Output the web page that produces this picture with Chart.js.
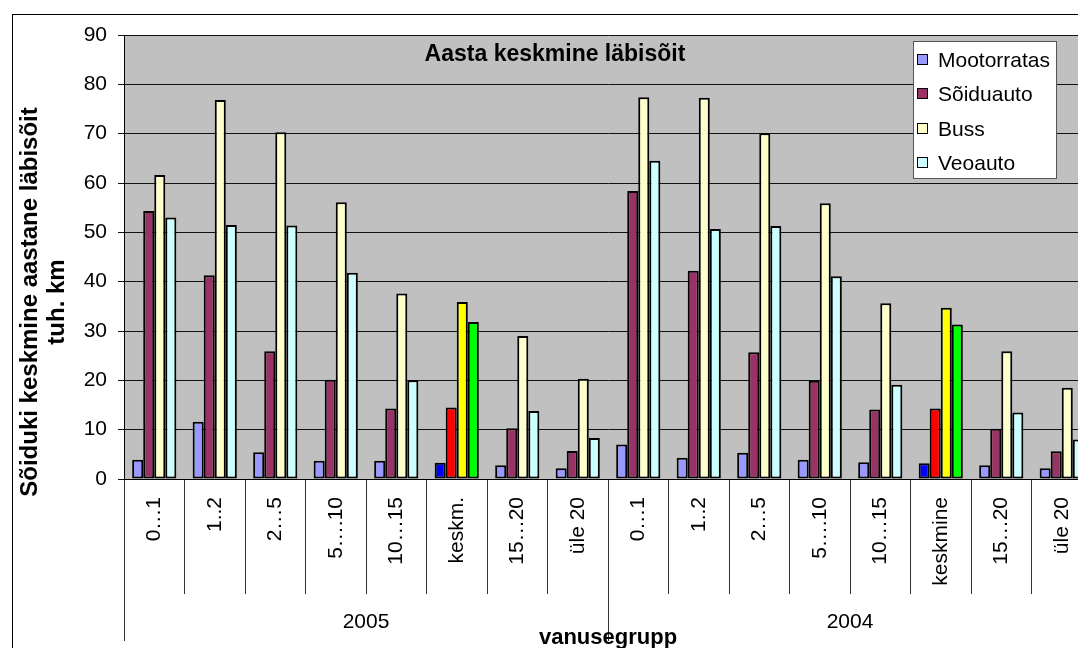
<!DOCTYPE html>
<html>
<head>
    <title>Aasta keskmine läbisõit</title>
    <script src="https://cdn.jsdelivr.net/npm/chart.js"></script>
    <style>
        body {
            margin: 0;
            width: 1078px;
            height: 648px;
            overflow: hidden;
            position: relative;
            background: #fff;
            font-family: "Liberation Sans", Arial, sans-serif;
        }
        #frame {
            position: absolute;
            left: 12px;
            top: 14px;
            width: 2000px;
            height: 2000px;
            border: 1px solid #000;
        }
        #chart {
            position: absolute;
            left: 0;
            top: 0;
        }
        #title {
            position: absolute;
            left: 555px;
            top: 42px;
            transform: translateX(-50%);
            font-weight: bold;
            font-size: 23px;
            line-height: 23px;
            white-space: nowrap;
        }
        #ytitle {
            position: absolute;
            left: -168px;
            top: 275px;
            width: 420px;
            height: 54px;
            transform: rotate(-90deg);
            text-align: center;
            font-weight: bold;
            font-size: 24px;
            line-height: 27px;
            white-space: nowrap;
        }
        #legend {
            position: absolute;
            left: 913px;
            top: 41px;
            width: 142px;
            height: 135px;
            background: #fff;
            border: 1px solid #555;
            padding-top: 1px;
            font-size: 21px;
        }
        .item {
            height: 34.3px;
            line-height: 34.3px;
            white-space: nowrap;
            position: relative;
            padding-left: 24px;
        }
        .item span {
            position: absolute;
            left: 3px;
            top: 11px;
            width: 9px;
            height: 9px;
            border: 1.5px solid #000;
        }
    </style>
</head>
<body>
    <div id="frame"></div>
    <canvas id="chart" width="1100" height="660"></canvas>
    <div id="title">Aasta keskmine läbisõit</div>
    <div id="ytitle">Sõiduki keskmine aastane läbisõit<br>tuh. km</div>
    <div id="legend"></div>

    <script>
        const ageGroups = ['0…1', '1..2', '2…5', '5….10', '10…15', 'keskm.', '15…20', 'üle 20',
                           '0…1', '1..2', '2…5', '5….10', '10…15', 'keskmine', '15…20', 'üle 20'];
        const years = ['2005', '2004'];

        const mootorratas = [3.9, 11.6, 5.4, 3.7, 3.7, 3.3, 2.8, 2.2, 7.0, 4.3, 5.3, 3.9, 3.4, 3.2, 2.8, 2.2];
        const soiduauto = [54.3, 41.3, 25.9, 20.1, 14.3, 14.5, 10.3, 5.7, 58.4, 42.2, 25.7, 19.9, 14.1, 14.3, 10.2, 5.6];
        const buss = [61.6, 76.8, 70.3, 56.1, 37.6, 35.9, 29.0, 20.3, 77.4, 77.3, 70.1, 55.9, 35.6, 34.7, 25.9, 18.5];
        const veoauto = [53.0, 51.5, 51.4, 41.8, 20.0, 31.8, 13.8, 8.3, 64.5, 50.7, 51.3, 41.1, 19.1, 31.3, 13.5, 8.0];

        const yTicks = [0, 10, 20, 30, 40, 50, 60, 70, 80, 90];

        // normal colour, colour used for the average ("keskm.") group
        const series = [
            { name: 'Mootorratas', data: mootorratas, color: '#9999FF', avgColor: '#0000FF' },
            { name: 'Sõiduauto', data: soiduauto, color: '#993366', avgColor: '#FF0000' },
            { name: 'Buss', data: buss, color: '#FFFFCC', avgColor: '#FFFF00' },
            { name: 'Veoauto', data: veoauto, color: '#CCFFFF', avgColor: '#00FF00' }
        ];

        const isAvg = label => label.startsWith('keskm');

        const plotBg = {
            id: 'plotBg',
            beforeDraw(chart) {
                const { ctx, chartArea: a } = chart;
                ctx.save();
                ctx.fillStyle = '#C0C0C0';
                ctx.fillRect(a.left, a.top, a.right - a.left, a.bottom - a.top);
                ctx.restore();
            }
        };

        const font = { family: '"Liberation Sans", Arial, sans-serif', size: 21 };

        new Chart(document.getElementById('chart'), {
            type: 'bar',
            data: {
                labels: ageGroups,
                datasets: series.map(s => ({
                    label: s.name,
                    data: s.data,
                    backgroundColor: ageGroups.map(l => isAvg(l) ? s.avgColor : s.color),
                    borderColor: '#000',
                    borderWidth: 2,
                    borderSkipped: false,
                    categoryPercentage: 0.73,
                    barPercentage: 1.0
                }))
            },
            options: {
                responsive: false,
                animation: false,
                layout: { padding: { left: 0, top: 35, right: 8, bottom: 0 } },
                plugins: {
                    legend: { display: false },
                    title: { display: false },
                    tooltip: { enabled: false }
                },
                scales: {
                    x: {
                        type: 'category',
                        position: 'bottom',
                        weight: 0,
                        offset: true,
                        grid: { offset: true, drawOnChartArea: false, tickLength: 115, color: '#333' },
                        border: { display: true, color: '#000' },
                        ticks: {
                            font: font,
                            color: '#000',
                            minRotation: 90,
                            maxRotation: 90,
                            autoSkip: false,
                            padding: -97
                        },
                        afterFit: s => { s.height = 115; }
                    },
                    x2: {
                        type: 'category',
                        labels: years,
                        position: 'bottom',
                        weight: 1,
                        offset: true,
                        grid: { offset: true, drawOnChartArea: false, tickLength: 47, color: '#333' },
                        border: { display: false },
                        ticks: { font: font, color: '#000', maxRotation: 0, padding: -31.6 },
                        title: {
                            display: true,
                            text: 'vanusegrupp',
                            color: '#000',
                            font: { family: font.family, size: 22, weight: 'bold' },
                            padding: { top: 0, bottom: 9 }
                        },
                        afterFit: s => { s.height = 66; }
                    },
                    y: {
                        min: 0,
                        max: 90,
                        afterBuildTicks: s => { s.ticks = yTicks.map(v => ({ value: v })); },
                        grid: { color: '#111', tickLength: 6 },
                        border: { display: true, color: '#000' },
                        ticks: { font: font, color: '#000', padding: 11 },
                        afterFit: s => { s.width = 124; }
                    }
                }
            },
            plugins: [plotBg]
        });

        const legend = document.getElementById('legend');
        series.forEach(s => {
            const row = document.createElement('div');
            row.className = 'item';
            const box = document.createElement('span');
            box.style.background = s.color;
            row.appendChild(box);
            row.appendChild(document.createTextNode(s.name));
            legend.appendChild(row);
        });
    </script>
</body>
</html>
